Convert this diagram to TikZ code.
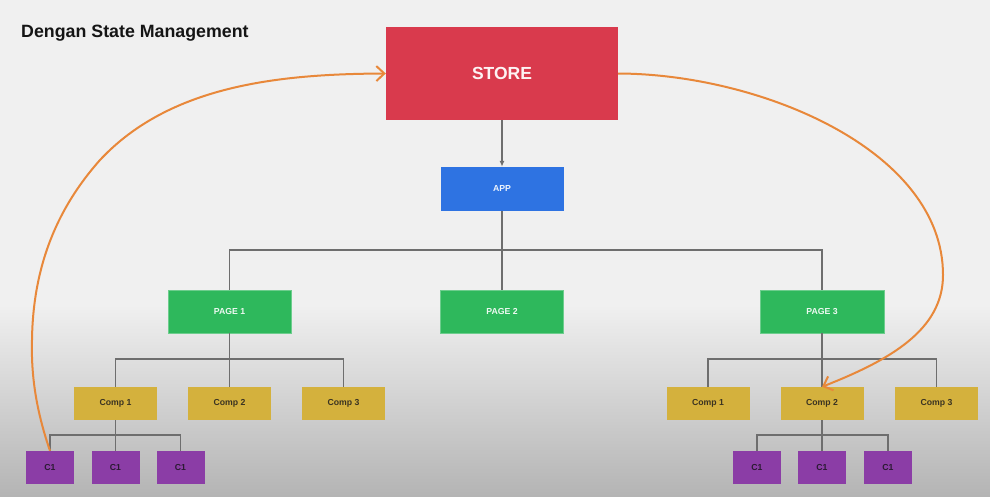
\documentclass[tikz,border=0pt]{standalone}
\usepackage{fontspec}
\setmainfont{Liberation Sans}
\usetikzlibrary{arrows.meta}

\definecolor{bgtop}{HTML}{F0F0F0}
\definecolor{bgbot}{HTML}{B4B4B4}
\definecolor{titleblack}{HTML}{151515}
\definecolor{storered}{HTML}{D93A4D}
\definecolor{appblue}{HTML}{2E73E2}
\definecolor{pagegreen}{HTML}{2EB85C}
\definecolor{compyellow}{HTML}{D4B13D}
\definecolor{comptext}{HTML}{3A3322}
\definecolor{leafpurple}{HTML}{8B3DA6}
\definecolor{leaftext}{HTML}{2A1A32}
\definecolor{treegray}{HTML}{6E6E6E}
\definecolor{floworange}{HTML}{E8883A}

\begin{document}
\begin{tikzpicture}[x=1pt,y=-1pt,
  box/.style={rectangle, inner sep=0pt, font=\fontsize{8.7}{10}\selectfont\bfseries},
  storebox/.style={box, fill=storered, minimum width=232pt, minimum height=93pt,
    text=white!94!storered, font=\fontsize{17.5}{20}\selectfont\bfseries},
  appbox/.style={box, fill=appblue, minimum width=123pt, minimum height=44pt, text=white!92!appblue},
  pagebox/.style={box, fill=pagegreen, draw=pagegreen!70!white, line width=0.6pt,
    minimum width=123pt, minimum height=43pt, text=white!92!pagegreen},
  compbox/.style={box, fill=compyellow, minimum width=83pt, minimum height=33pt, text=comptext},
  leafbox/.style={box, fill=leafpurple, minimum width=48pt, minimum height=33pt, text=leaftext},
  tree/.style={draw=treegray, line width=1.25pt},
  flow/.style={draw=floworange, line width=2pt,
    -{Straight Barb[length=8pt,width=15pt,line width=2pt]}}
]
% canvas and the darker band along the bottom
\useasboundingbox (0,0) rectangle (990,496);
\fill[bgtop] (0,0) rectangle (990,496);
\shade[top color=bgtop, bottom color=bgbot] (0,305) rectangle (990,496);

% heading
\node[anchor=west, inner sep=0pt, text=titleblack,
      font=\fontsize{17.8}{20}\selectfont\bfseries] (title) at (21,33) {Dengan State Management};

% store and app
\node[storebox] (store) at (502,73.5) {STORE};
\node[appbox] (app) at (502,189) {APP};

% pages
\node[pagebox] (p1) at (229.5,311.5) {PAGE 1};
\node[pagebox] (p2) at (502,311.5) {PAGE 2};
\node[pagebox, minimum width=124pt] (p3) at (822,311.5) {PAGE 3};

% components under page 1
\node[compbox] (ca1) at (115.5,403.5) {Comp 1};
\node[compbox] (ca2) at (229.5,403.5) {Comp 2};
\node[compbox] (ca3) at (343.5,403.5) {Comp 3};

% components under page 3
\node[compbox] (cb1) at (708,403.5) {Comp 1};
\node[compbox] (cb2) at (822,403.5) {Comp 2};
\node[compbox] (cb3) at (936.5,403.5) {Comp 3};

% children of the left Comp 1
\node[leafbox] (la1) at (50,467.5) {C1};
\node[leafbox] (la2) at (115.5,467.5) {C1};
\node[leafbox] (la3) at (180.5,467.5) {C1};

% children of the right Comp 2
\node[leafbox] (lb1) at (757,467.5) {C1};
\node[leafbox] (lb2) at (822,467.5) {C1};
\node[leafbox] (lb3) at (888,467.5) {C1};

% bus junctions of the tree
\coordinate (busapp) at (502,250);
\coordinate (busp1) at (229.5,359);
\coordinate (busp3) at (822,359);
\coordinate (busca1) at (115.5,435);
\coordinate (buscb2) at (822,435);

% tree connectors
\draw[tree, -{Latex[length=6pt,width=5pt]}] (store.south) -- (app.north);
\draw[tree] (app.south) -- (p2.north);
\draw[tree] (p1.north) |- (busapp) -| (p3.north);
\draw[tree] (p1.south) -- (ca2.north);
\draw[tree] (ca1.north) |- (busp1) -| (ca3.north);
\draw[tree] (p3.south) -- (cb2.north);
\draw[tree] (cb1.north) |- (busp3) -| (cb3.north);
\draw[tree] (ca1.south) -- (la2.north);
\draw[tree] (la1.north) |- (busca1) -| (la3.north);
\draw[tree] (cb2.south) -- (lb2.north);
\draw[tree] (lb1.north) |- (buscb2) -| (lb3.north);

% state flow: a child writes into the store, the store feeds another component
\draw[flow] (la1.north) .. controls (36,410) and (31,375) .. (32,340)
  .. controls (33,262) and (60,205) .. (100,160)
  .. controls (170,85) and (280,74) .. (store.west);
\draw[flow] (store.east) .. controls (760,74) and (943,150) .. (943,275)
  .. controls (943,330) and (890,360) .. (cb2.north);
\end{tikzpicture}
\end{document}
